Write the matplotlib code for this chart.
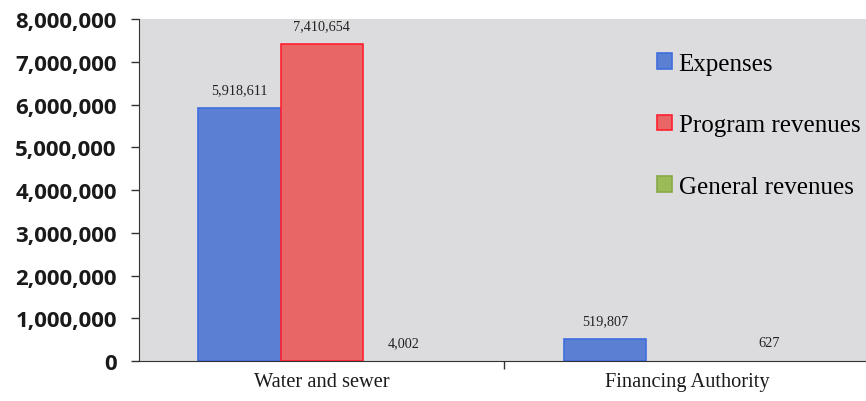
import numpy as np
import matplotlib.pyplot as plt
from matplotlib.ticker import FuncFormatter

categories = ['Water and sewer', 'Financing Authority']
series = ['Expenses', 'Program revenues', 'General revenues']
expenses = [5918611, 519807]
program_rev = [7410654, 0]
general_rev = [4002, 627]
bar_labels = [['5,918,611', '519,807'], ['7,410,654', ''], ['4,002', '627']]

colors = ['#5b7fd3', '#e96666', '#9bbb59']
edges = ['#3f6ee0', '#ff1f2f', '#8aa84a']

fig = plt.figure(figsize=(8.66, 4.02), dpi=100)
ax = fig.add_axes([0.1605, 0.0995, 0.8395, 0.8507])
ax.set_facecolor('#dcdcde')

x = np.arange(len(categories))
w = 0.225
for i, (vals, name) in enumerate(zip([expenses, program_rev, general_rev], series)):
	pos = x + (i - 1) * w
	# tiny values show no outline in the original
	lw = [1.2 if v > 50000 else 0 for v in vals]
	ax.bar(pos, vals, w, color=colors[i], edgecolor=edges[i], linewidth=lw, label=name)
	for p, v, t in zip(pos, vals, bar_labels[i]):
		if t:
			ax.text(p, v + 280000, t, ha='center', va='bottom', fontsize=10.3,
					family='Liberation Serif', color='#222222')

ax.set_xlim(-0.5, 1.49)
ax.set_ylim(0, 8000000)
ax.set_yticks(np.arange(0, 8000001, 1000000))
ax.yaxis.set_major_formatter(FuncFormatter(lambda v, p: '{:,.0f}'.format(v)))
for lab in ax.get_yticklabels():
	lab.set_family('Open Sans')
	lab.set_fontweight('bold')
	lab.set_fontsize(16)
	lab.set_color('#1a1a1a')
ax.tick_params(axis='y', length=6, width=1, color='#333333', pad=10)

ax.set_xticks(x)
ax.set_xticklabels(categories, family='Liberation Serif', fontsize=14.7, color='#1a1a1a')
ax.tick_params(axis='x', length=0, pad=8)
ax.set_xticks([0.5], minor=True)
ax.tick_params(axis='x', which='minor', length=6, width=1, color='#333333')

for s in ['top', 'right']:
	ax.spines[s].set_visible(False)
ax.spines['left'].set_color('#333333')
ax.spines['bottom'].set_color('#333333')

leg = ax.legend(loc='upper left', bbox_to_anchor=(0.759, 0.866), bbox_transform=fig.transFigure,
				frameon=False, borderpad=0, borderaxespad=0,
				prop={'family': 'Liberation Serif', 'size': 18},
				handlelength=0.6, handleheight=0.6, handletextpad=0.25, labelspacing=1.58)
for h in leg.legend_handles:
	h.set_linewidth(1.2)

fig.savefig('out.png', dpi=100)
